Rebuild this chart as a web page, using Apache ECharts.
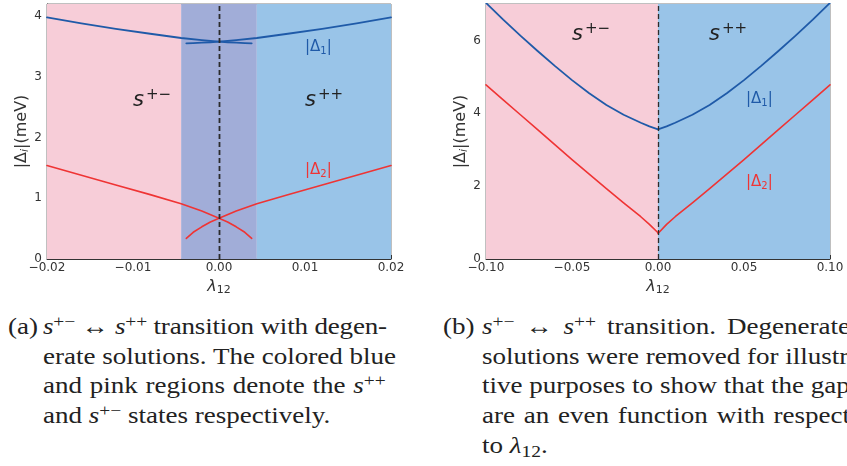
<!DOCTYPE html>
<html>
<head>
<meta charset="utf-8">
<script src="https://cdn.jsdelivr.net/npm/echarts@6/dist/echarts.min.js"></script>
<style>
  html, body { margin: 0; padding: 0; background: #fff; }
  body { width: 847px; height: 466px; overflow: hidden; position: relative; }
  #chart { position: absolute; left: 0; top: 0; width: 847px; height: 300px; }
  .cap { position: absolute; font-family: "Liberation Serif", "DejaVu Serif", serif; font-size: 23.5px; line-height: 29.7px; color: #222; transform: scaleX(1.15); transform-origin: 0 0; }
  .cap .ln { display: block; white-space: nowrap; text-align: justify; text-align-last: justify; }
  .cap .ln.last { text-align: left; text-align-last: left; }
  .cap .ln.tight { letter-spacing: -0.15px; }
  .cap sup { font-size: 0.72em; vertical-align: 0.42em; line-height: 0; }
  .cap sub { font-size: 0.72em; vertical-align: -0.25em; line-height: 0; }
</style>
</head>
<body>
<div id="chart"></div>

<div class="cap" style="left:8px; top:312px;">(a)</div>
<div class="cap" style="left:43px; top:312px; width:298px;">
  <span class="ln tight"><i>s</i><sup>+−</sup> ↔ <i>s</i><sup>++</sup> transition with degen-</span>
  <span class="ln">erate solutions. The colored blue</span>
  <span class="ln">and pink regions denote the <i>s</i><sup>++</sup></span>
  <span class="ln last">and <i>s</i><sup>+−</sup> states respectively.</span>
</div>

<div class="cap" style="left:443px; top:312px;">(b)</div>
<div class="cap" style="left:482px; top:312px; width:320px;">
  <span class="ln"><i>s</i><sup>+−</sup> ↔ <i>s</i><sup>++</sup> transition. Degenerate</span>
  <span class="ln">solutions were removed for illustra-</span>
  <span class="ln">tive purposes to show that the gaps</span>
  <span class="ln">are an even function with respect</span>
  <span class="ln last">to <i>λ</i><sub>12</sub>.</span>
</div>

<script>
// ---------- panel (a): degenerate solutions, λ12 in [-0.02, 0.02] ----------
// branch coming from the s+- side (continues past λ12 = 0 as the degenerate solution)
const lamA_fromLeft  = [-0.02, -0.016, -0.012, -0.008, -0.0044, -0.002, 0, 0.001, 0.002, 0.003, 0.0038];
const gap1A_fromLeft = [3.98, 3.88, 3.79, 3.71, 3.64, 3.605, 3.58, 3.57, 3.563, 3.557, 3.553];
const gap2A_fromLeft = [1.54, 1.38, 1.22, 1.06, 0.91, 0.79, 0.67, 0.61, 0.53, 0.44, 0.34];
// branch coming from the s++ side
const lamA_fromRight  = [-0.0038, -0.003, -0.002, -0.001, 0, 0.002, 0.0044, 0.008, 0.012, 0.016, 0.02];
const gap1A_fromRight = [3.553, 3.557, 3.563, 3.57, 3.58, 3.605, 3.64, 3.71, 3.79, 3.88, 3.98];
const gap2A_fromRight = [0.34, 0.44, 0.53, 0.61, 0.67, 0.79, 0.91, 1.06, 1.22, 1.38, 1.54];
// phase boundaries (dashed) and shaded regions
const boundA = [-0.0044, 0, 0.0044];
const regionsA = [
  { from: -0.02,   to: -0.0044, color: '#f7cdd8' },   // s+-
  { from: -0.0044, to:  0.0044, color: '#a1add8' },   // overlap
  { from:  0.0044, to:  0.02,   color: '#99c4e8' }    // s++
];

// ---------- panel (b): degenerate solutions removed, λ12 in [-0.1, 0.1] ----------
const lamB_neg  = [-0.1, -0.09, -0.08, -0.07, -0.06, -0.05, -0.04, -0.03, -0.02, -0.01, -0.005, 0];
const gap1B_neg = [7.03, 6.57, 6.13, 5.71, 5.30, 4.91, 4.55, 4.23, 3.96, 3.74, 3.64, 3.56];
const gap2B_neg = [4.78, 4.37, 3.96, 3.55, 3.14, 2.73, 2.33, 1.93, 1.54, 1.16, 0.95, 0.72];
const lamB_pos  = [0, 0.005, 0.01, 0.02, 0.03, 0.04, 0.05, 0.06, 0.07, 0.08, 0.09, 0.1];
const gap1B_pos = [3.56, 3.64, 3.74, 3.96, 4.23, 4.55, 4.91, 5.30, 5.71, 6.13, 6.57, 7.03];
const gap2B_pos = [0.70, 0.95, 1.16, 1.54, 1.93, 2.33, 2.73, 3.14, 3.55, 3.96, 4.37, 4.78];
const boundB = [0];
const regionsB = [
  { from: -0.1, to: 0,   color: '#f7cdd8' },
  { from: 0,    to: 0.1, color: '#99c4e8' }
];

// tick settings
const xTicksA = { min: -0.02, max: 0.02, interval: 0.01, decimals: 2 };
const yTicksA = { min: 0, max: 4.2, interval: 1 };
const xTicksB = { min: -0.1, max: 0.1, interval: 0.05, decimals: 2 };
const yTicksB = { min: 0, max: 7, interval: 2 };

const BLUE = '#1f5aa8';
const RED = '#ef3434';
const INK = '#333333';
const SANS = 'DejaVu Sans';

const pairs = (xs, ys) => xs.map((x, i) => [x, ys[i]]);
const minusSign = s => s.replace('-', '\u2212');

function xAxis(gi, t) {
  return {
    type: 'value', gridIndex: gi, min: t.min, max: t.max, interval: t.interval,
    name: '{l|λ}{sub|12}', nameLocation: 'middle', nameGap: 17,
    nameTextStyle: {
      rich: {
        l: { fontFamily: SANS, fontStyle: 'italic', fontSize: 16, color: INK, lineHeight: 18 },
        sub: { fontFamily: SANS, fontSize: 11, color: INK, lineHeight: 12, verticalAlign: 'bottom' }
      }
    },
    axisLine: { show: true, onZero: false, lineStyle: { color: INK, width: 1 } },
    axisTick: { show: true, inside: true, length: 4, lineStyle: { color: INK } },
    minorTick: { show: true, splitNumber: 5, length: 2.5, lineStyle: { color: '#555' } },
    splitLine: { show: false },
    axisLabel: { fontFamily: SANS, fontSize: 12, color: INK, margin: 3,
      formatter: v => minusSign(Number(v).toFixed(t.decimals)) }
  };
}

function yAxis(gi, t, minorSplit) {
  return {
    type: 'value', gridIndex: gi, min: t.min, max: t.max, interval: t.interval,
    name: '{b|\u007CΔ}{sub|i}{b|\u007C(meV)}', nameLocation: 'middle', nameGap: 14, nameRotate: 90,
    nameTextStyle: {
      rich: {
        b: { fontFamily: SANS, fontSize: 16, color: INK, lineHeight: 18 },
        sub: { fontFamily: SANS, fontStyle: 'italic', fontSize: 11, color: INK, lineHeight: 11, verticalAlign: 'bottom' }
      }
    },
    axisLine: { show: true, onZero: false, lineStyle: { color: INK, width: 1 } },
    axisTick: { show: true, inside: true, length: 4, lineStyle: { color: INK } },
    minorTick: { show: true, splitNumber: minorSplit, length: 2.5, lineStyle: { color: '#555' } },
    splitLine: { show: false },
    axisLabel: { fontFamily: SANS, fontSize: 12, color: INK, margin: 5, showMaxLabel: false,
      formatter: v => (Math.abs(v - Math.round(v)) < 1e-9 ? String(Math.round(v)) : '') }
  };
}

function backdrop(gi, regions, bounds) {
  return {
    type: 'line', xAxisIndex: gi, yAxisIndex: gi, data: [], silent: true, z: 1,
    markArea: {
      silent: true,
      data: regions.map(r => [
        { xAxis: r.from, itemStyle: { color: r.color, opacity: 1 } },
        { xAxis: r.to }
      ])
    },
    markLine: {
      silent: true, symbol: ['none', 'none'], label: { show: false },
      lineStyle: { color: '#2b2b2b', type: [5, 3], width: 1.3 },
      data: bounds.map(b => ({ xAxis: b }))
    }
  };
}

function curve(gi, xs, ys, color, width) {
  return {
    type: 'line', xAxisIndex: gi, yAxisIndex: gi, data: pairs(xs, ys),
    showSymbol: false, smooth: false, z: 3, silent: true,
    lineStyle: { color: color, width: width, join: 'round', cap: 'round' }, itemStyle: { color: color }
  };
}

// text annotations inside the panels
function stateLabel(x, y, sup) {
  return {
    type: 'text', x: x, y: y, z: 10, silent: true,
    style: {
      text: '{s|s}{p|' + sup + '}',
      rich: {
        s: { fontFamily: SANS, fontStyle: 'italic', fontSize: 21, fill: '#222', lineHeight: 26 },
        p: { fontFamily: SANS, fontSize: 15, fill: '#222', lineHeight: 16, verticalAlign: 'top', padding: [0, 0, 0, 2] }
      }
    }
  };
}
function gapLabel(x, y, idx, color) {
  return {
    type: 'text', x: x, y: y, z: 10, silent: true,
    style: {
      text: '{b||Δ}{sub|' + idx + '}{b||}',
      rich: {
        b: { fontFamily: SANS, fontSize: 15, fill: color, lineHeight: 18 },
        sub: { fontFamily: SANS, fontSize: 10, fill: color, lineHeight: 11, verticalAlign: 'bottom' }
      }
    }
  };
}

const chart = echarts.init(document.getElementById('chart'), null, { renderer: 'canvas' });
chart.setOption({
  animation: false,
  backgroundColor: '#ffffff',
  grid: [
    { left: 47, top: 4, width: 344, height: 255, show: true, borderColor: '#808080', borderWidth: 1, backgroundColor: 'transparent', outerBoundsMode: 'none' },
    { left: 486, top: 4, width: 344, height: 255, show: true, borderColor: '#808080', borderWidth: 1, backgroundColor: 'transparent', outerBoundsMode: 'none' }
  ],
  xAxis: [xAxis(0, xTicksA), xAxis(1, xTicksB)],
  yAxis: [yAxis(0, yTicksA, 5), yAxis(1, yTicksB, 4)],
  series: [
    backdrop(0, regionsA, boundA),
    curve(0, lamA_fromLeft, gap1A_fromLeft, BLUE, 1.8),
    curve(0, lamA_fromRight, gap1A_fromRight, BLUE, 1.8),
    curve(0, lamA_fromLeft, gap2A_fromLeft, RED, 1.6),
    curve(0, lamA_fromRight, gap2A_fromRight, RED, 1.6),
    backdrop(1, regionsB, boundB),
    curve(1, lamB_neg, gap1B_neg, BLUE, 1.8),
    curve(1, lamB_pos, gap1B_pos, BLUE, 1.8),
    curve(1, lamB_neg, gap2B_neg, RED, 1.6),
    curve(1, lamB_pos, gap2B_pos, RED, 1.6)
  ],
  graphic: [
    stateLabel(133, 88, '+−'),
    stateLabel(305, 88, '++'),
    gapLabel(305, 38, '1', BLUE),
    gapLabel(305, 161, '2', RED),
    stateLabel(572, 22, '+−'),
    stateLabel(709, 22, '++'),
    gapLabel(746, 90, '1', BLUE),
    gapLabel(746, 173, '2', RED)
  ]
});
</script>
</body>
</html>
